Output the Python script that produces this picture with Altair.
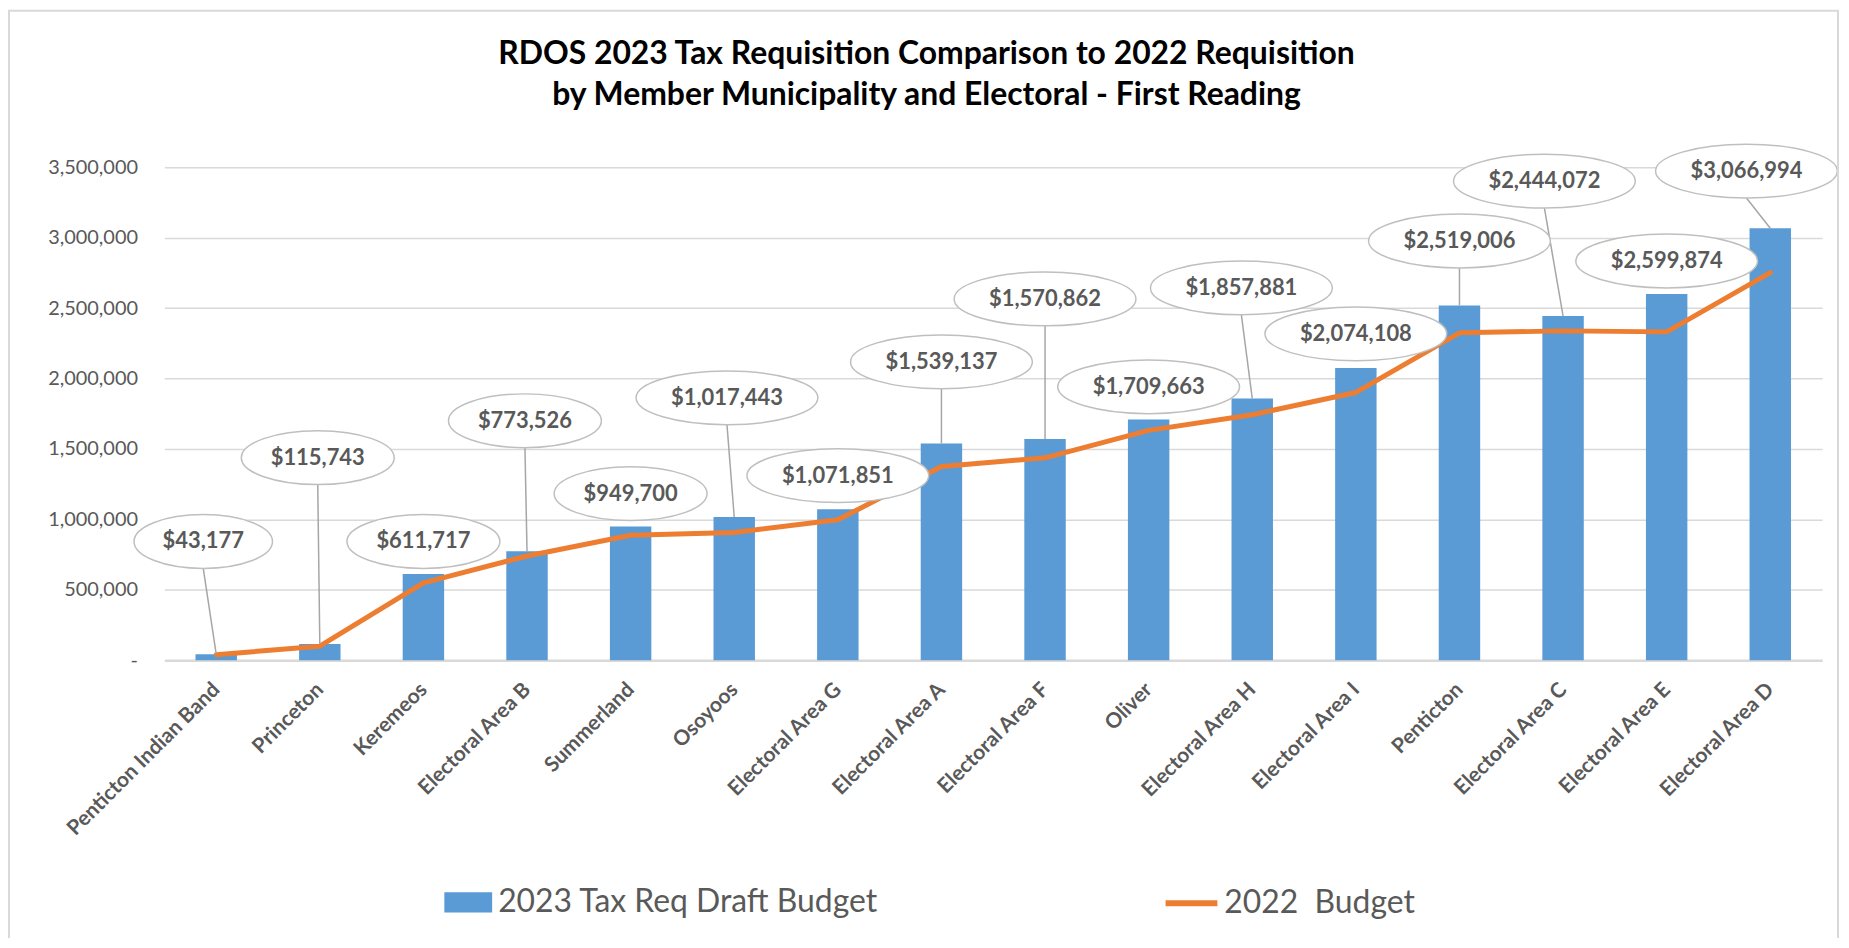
import altair as alt
import pandas as pd

# ---------------- data ----------------
names = ["Penticton Indian Band", "Princeton", "Keremeos", "Electoral Area B", "Summerland",
         "Osoyoos", "Electoral Area G", "Electoral Area A", "Electoral Area F", "Oliver",
         "Electoral Area H", "Electoral Area I", "Penticton", "Electoral Area C",
         "Electoral Area E", "Electoral Area D"]
budget_2023 = [43177, 115743, 611717, 773526, 949700, 1017443, 1071851, 1539137, 1570862,
               1709663, 1857881, 2074108, 2519006, 2444072, 2599874, 3066994]
budget_2022 = [40000, 100000, 550000, 740000, 887000, 907000, 997000, 1375000, 1437000,
               1632000, 1743000, 1901000, 2324000, 2338000, 2331000, 2752000]
# callout (data-label bubble) placement: value level of the bubble centre, and shift in category steps
callout_level = [843000, 1438000, 843000, 1700000, 1183000, 1863000, 1311000, 2118000, 2565000,
                 1941000, 2643000, 2317000, 2976000, 3401000, 2834000, 3472000]
callout_shift = [-0.125, -0.02, 0, -0.02, 0, -0.07, 0, 0, 0, 0, -0.105, 0, 0, -0.18, 0, -0.23]
y_ticks = [0, 500000, 1000000, 1500000, 2000000, 2500000, 3000000, 3500000]
series_names = ["2023 Tax Req Draft Budget", "2022\u00a0 Budget"]
title_lines = ["RDOS 2023 Tax Requisition Comparison to 2022 Requisition",
               "by Member Municipality and Electoral - First Reading"]

BLUE = "#5B9BD5"
ORANGE = "#ED7D31"
GREY_TXT = "#595959"
FONT = "Lato"


def ellipse_path(r):
    k = 0.5523
    return (f"M -1 0 C -1 {-r*k:.4f} {-k} {-r:.4f} 0 {-r:.4f} "
            f"C {k} {-r:.4f} 1 {-r*k:.4f} 1 0 "
            f"C 1 {r*k:.4f} {k} {r:.4f} 0 {r:.4f} "
            f"C {-k} {r:.4f} -1 {r*k:.4f} -1 0 Z")


df = pd.DataFrame({
    "idx": list(range(len(names))),
    "name": names,
    "v2023": budget_2023,
    "v2022": budget_2022,
    "cy": callout_level,
    "cdx": callout_shift,
})
df["label"] = ["${:,}".format(v) for v in budget_2023]
df["cx"] = df["idx"] + df["cdx"]
bubble_w = [14.5 * len(t) + 37.5 for t in df["label"]]
df["bsize"] = [w * w for w in bubble_w]
df["bshape"] = [ellipse_path(54.0 / w) for w in bubble_w]
df["s_bar"] = series_names[0]
df["s_line"] = series_names[1]

names_js = "[" + ",".join("'" + n + "'" for n in names) + "]"

xscale = alt.Scale(domain=[-0.5, len(names) - 0.5], nice=False, zero=False)
yscale = alt.Scale(domain=[0, 3500000], nice=False)

xaxis = alt.Axis(values=list(range(len(names))), labelExpr=names_js + "[datum.value]",
                 title=None, grid=False, ticks=False, tickSize=0, domain=True,
                 domainColor="#D9D9D9", domainWidth=2.5, labelAngle=-45, labelAlign="right",
                 labelBaseline="middle", labelFont=FONT, labelFontWeight="bold",
                 labelFontSize=21, labelColor=GREY_TXT, labelPadding=26, labelLimit=400,
                 labelOverlap=False, labelFlush=False)
yaxis = alt.Axis(values=y_ticks,
                 labelExpr="datum.value == 0 ? '-' : format(datum.value, ',')",
                 title=None, grid=True, gridColor="#D9D9D9", gridWidth=1.5, domain=False,
                 ticks=False, tickSize=0, labelFont=FONT, labelFontSize=20,
                 labelColor=GREY_TXT, labelPadding=27, labelOverlap=False)

base = alt.Chart(df)

bars = base.transform_calculate(
    x0="datum.idx - 0.2", x1="datum.idx + 0.2"
).mark_bar().encode(
    x=alt.X("x0:Q", scale=xscale, axis=xaxis),
    x2="x1:Q",
    y=alt.Y("v2023:Q", scale=yscale, axis=yaxis),
    y2=alt.datum(0),
    color=alt.Color("s_bar:N",
                    scale=alt.Scale(domain=[series_names[0]], range=[BLUE]),
                    legend=alt.Legend(title=None, orient="none", legendX=281, legendY=714,
                                      symbolType="M -1 -0.42 L 1 -0.42 L 1 0.42 L -1 0.42 Z",
                                      symbolSize=2304, symbolStrokeWidth=0, padding=0,
                                      labelFont=FONT, labelFontSize=32, labelColor=GREY_TXT,
                                      labelOffset=6, labelLimit=1000)),
)

line = base.mark_line(strokeWidth=5, strokeCap="round", strokeJoin="round").encode(
    x=alt.X("idx:Q", scale=xscale),
    y=alt.Y("v2022:Q", scale=yscale),
    stroke=alt.Stroke("s_line:N",
                      scale=alt.Scale(domain=[series_names[1]], range=[ORANGE]),
                      legend=alt.Legend(title=None, orient="none", legendX=1002, legendY=710,
                                        symbolType="stroke", symbolSize=2704,
                                        symbolStrokeWidth=6, padding=0,
                                        labelFont=FONT, labelFontSize=32,
                                        labelColor=GREY_TXT, labelOffset=4, labelLimit=1000)),
)

leaders = base.transform_filter(
    "datum.cy - datum.v2023 > 300000"
).mark_rule(color="#A6A6A6", strokeWidth=1.5, yOffset=27).encode(
    x=alt.X("cx:Q", scale=xscale),
    x2="idx:Q",
    y=alt.Y("cy:Q", scale=yscale),
    y2="v2023:Q",
)

bubbles = base.mark_point(fill="white", stroke="#BFBFBF", strokeWidth=1.5, opacity=1,
                          fillOpacity=1, strokeOpacity=1).encode(
    x=alt.X("cx:Q", scale=xscale),
    y=alt.Y("cy:Q", scale=yscale),
    shape=alt.Shape("bshape:N", scale=None, legend=None),
    size=alt.Size("bsize:Q", scale=None, legend=None),
)

labels = base.mark_text(font=FONT, fontWeight="bold", fontSize=22, color=GREY_TXT,
                        align="center", baseline="middle").encode(
    x=alt.X("cx:Q", scale=xscale),
    y=alt.Y("cy:Q", scale=yscale),
    text="label:N",
)

frame = alt.Chart(pd.DataFrame({"k": [0]})).mark_rect(
    fillOpacity=0, stroke="#D9D9D9", strokeWidth=2
).encode(
    x=alt.value(-156), x2=alt.value(1680), y=alt.value(-157), y2=alt.value(800)
)

chart = alt.layer(bars, line, leaders, bubbles, labels, frame).resolve_scale(
    color="independent"
).properties(
    width=1664,
    height=495,
    padding={"left": 157, "top": 158, "right": 19, "bottom": 277},
    autosize=alt.AutoSizeParams(type="none"),
    title=alt.TitleParams(text=title_lines, font=FONT, fontSize=32, fontWeight="bold",
                          color="#000000", anchor="middle", frame="group", dx=-67,
                          offset=-103, lineHeight=42),
).configure(background="white").configure_view(stroke=None)

chart.save("out.html", embed_options={"renderer": "svg", "actions": False})
